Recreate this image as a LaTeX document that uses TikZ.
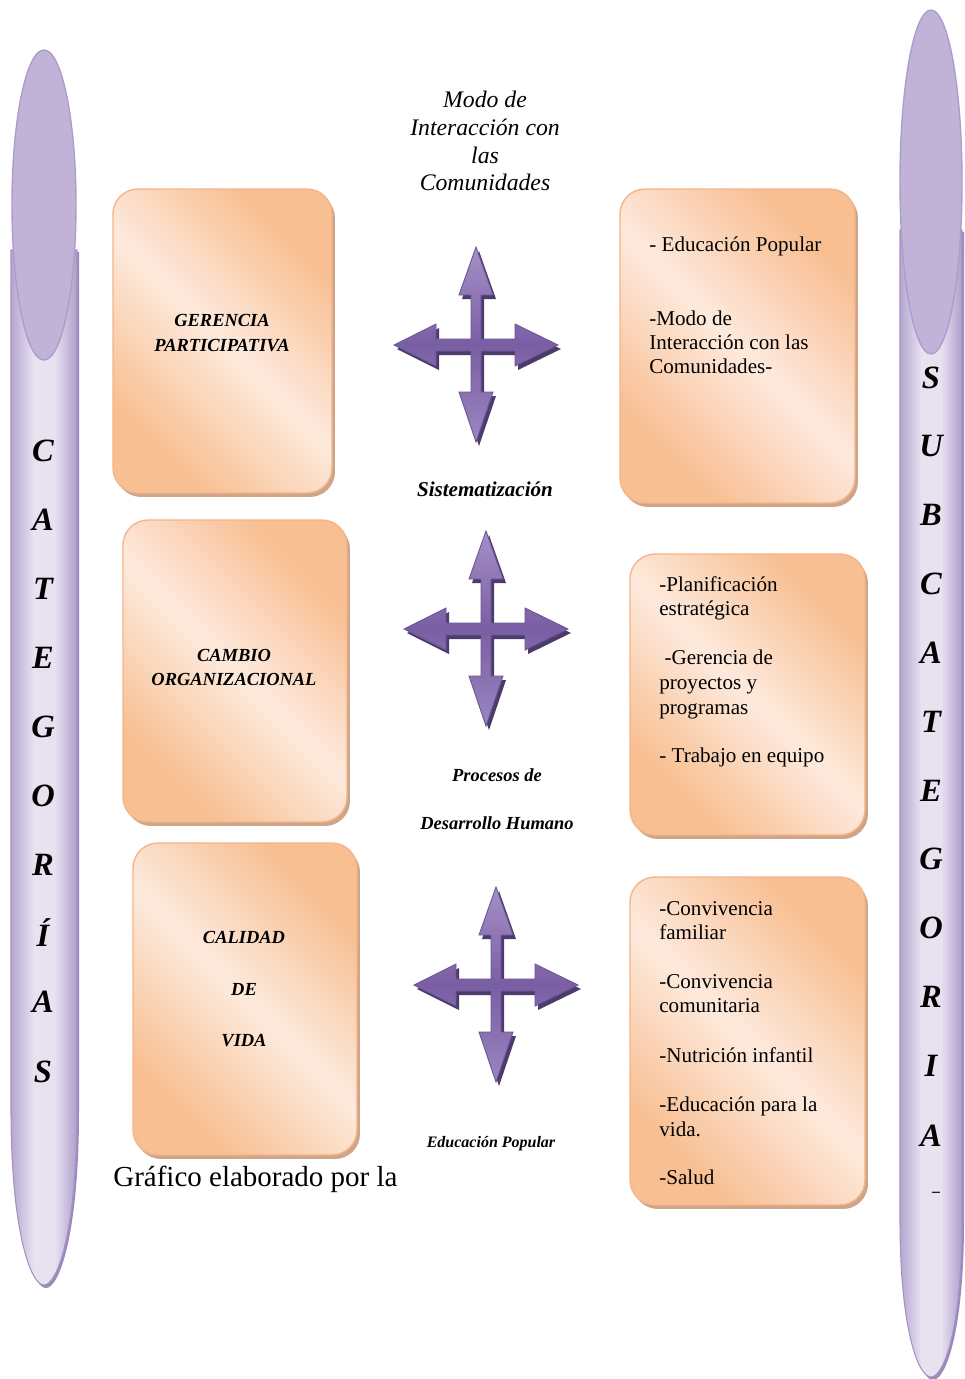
\documentclass[tikz,border=0pt]{standalone}
\usepackage{fontspec}
\setmainfont{Liberation Serif}
\usetikzlibrary{shadows}
\definecolor{orng}{HTML}{F8BF92}
\definecolor{olight}{HTML}{FDEADD}
\definecolor{obrd}{HTML}{F4B58A}
\definecolor{oshad}{HTML}{CFA589}
\definecolor{sce}{HTML}{B5A6D0}
\definecolor{scl}{HTML}{E7E1F0}
\definecolor{sce2}{HTML}{AE9ECB}
\definecolor{scbrd}{HTML}{A393C3}
\definecolor{scshad}{HTML}{9A89BA}
\definecolor{ellfill}{HTML}{C1B3D7}
\definecolor{ellbrd}{HTML}{AC9ECA}
\definecolor{artop}{HTML}{A590C6}
\definecolor{armid}{HTML}{7A5EA4}
\definecolor{arbot}{HTML}{9A86C0}
\definecolor{arbrd}{HTML}{6C5497}
\definecolor{arshad}{HTML}{4B3C6B}
\pgfdeclarehorizontalshading{boxsh}{100bp}{color(0bp)=(orng); color(27bp)=(orng); color(50bp)=(olight); color(73bp)=(orng); color(100bp)=(orng)}
\pgfdeclarehorizontalshading{scrollsh}{100bp}{color(0bp)=(sce); color(25bp)=(sce); color(42bp)=(scl); color(58bp)=(scl); color(75bp)=(sce2); color(100bp)=(sce2)}
\tikzset{
  obox/.style={rectangle, rounded corners=0.5cm, shading=boxsh, shading angle=45,
    draw=obrd, line width=0.8pt, inner sep=0pt, outer sep=0pt,
    drop shadow={shadow xshift=0.06cm, shadow yshift=-0.08cm, fill=oshad, opacity=1}},
  ltitle/.style={font=\fontsize{10.5}{12}\selectfont\bfseries\itshape, anchor=base, inner sep=0pt},
  rtext/.style={font=\fontsize{12}{14}\selectfont, anchor=base west, inner sep=0pt},
  sletter/.style={font=\fontsize{18.5}{20}\selectfont\bfseries\itshape, inner sep=0pt},
  ctext/.style={font=\bfseries\itshape, anchor=base, inner sep=0pt},
  cross4/.pic={
    \fill[arshad] (3,-94) -- (20,-46) -- (8,-46) -- (8,-2) -- (42,-2) -- (42,-17) -- (85,4) -- (42,25) -- (42,10) -- (8,10) -- (8,51) -- (20,51) -- (3,101) -- (-14,51) -- (-2,51) -- (-2,10) -- (-37,10) -- (-37,25) -- (-79,4) -- (-37,-17) -- (-37,-2) -- (-2,-2) -- (-2,-46) -- (-14,-46) -- cycle;
    \path[draw=arbrd, line width=0.5pt, top color=artop, bottom color=arbot, middle color=armid]
      (0,-98) -- (17,-50) -- (5,-50) -- (5,-6) -- (39,-6) -- (39,-21) -- (82,0) -- (39,21) -- (39,6) -- (5,6) -- (5,47) -- (17,47) -- (0,97) -- (-17,47) -- (-5,47) -- (-5,6) -- (-40,6) -- (-40,21) -- (-82,0) -- (-40,-21) -- (-40,-6) -- (-5,-6) -- (-5,-50) -- (-17,-50) -- cycle;
  }
}
\begin{document}
\begin{tikzpicture}[x=0.02cm,y=-0.02cm]
\useasboundingbox (0,0) rectangle (964,1379);
\fill[white] (0,0) rectangle (964,1379);

% ---- left scroll
\fill[scshad] (13,252) -- (13,1112) .. controls (13,1230) and (32,1288) .. (46,1288) .. controls (60,1288) and (79,1230) .. (79,1112) -- (79,252) -- cycle;
\path[shading=scrollsh, draw=scbrd, line width=0.6pt] (11,250) -- (11,1110) .. controls (11,1228) and (30,1285) .. (44,1285) .. controls (58,1285) and (77,1228) .. (77,1110) -- (77,250) -- cycle;
\draw[fill=ellfill, draw=ellbrd, line width=0.8pt] (44,205) ellipse [x radius=32, y radius=155];
\foreach \l/\y [count=\i] in {C/451, A/520, T/589, E/658, G/727, O/796, R/865, Í/933, A/1002, S/1072}
  \node[sletter, name=cl\i] at (43,\y) {\l};

% ---- right scroll
\fill[scshad] (902,232) -- (902,1222) .. controls (902,1330) and (920,1380) .. (933,1380) .. controls (946,1380) and (964,1330) .. (964,1222) -- (964,232) -- cycle;
\path[shading=scrollsh, draw=scbrd, line width=0.6pt] (900,230) -- (900,1220) .. controls (900,1328) and (918,1377) .. (931,1377) .. controls (944,1377) and (962,1328) .. (962,1220) -- (962,230) -- cycle;
\draw[fill=ellfill, draw=ellbrd, line width=0.8pt] (931,182) ellipse [x radius=31, y radius=172];
\foreach \l/\y [count=\i] in {S/378, U/446, B/515, C/584, A/653, T/722, E/791, G/859, O/928, R/997, I/1066, A/1136}
  \node[sletter, name=sl\i] at (931,\y) {\l};
\node[font=\fontsize{9}{10}\selectfont\bfseries, inner sep=0pt] (sdash) at (936,1194) {--};

% ---- left boxes
\node[obox, minimum width=4.38cm, minimum height=6.08cm] (b1) at (222.5,341) {};
\node[obox, minimum width=4.48cm, minimum height=6.04cm] (b2) at (235,671) {};
\node[obox, minimum width=4.48cm, minimum height=6.24cm] (b3) at (245,999) {};
\node[ltitle] (b1a) at (222,326) {GERENCIA};
\node[ltitle] (b1b) at (222,351) {PARTICIPATIVA};
\node[ltitle] (b2a) at (234,661) {CAMBIO};
\node[ltitle] (b2b) at (234,685) {ORGANIZACIONAL};
\node[ltitle] (b3a) at (244,943) {CALIDAD};
\node[ltitle] (b3b) at (244,995) {DE};
\node[ltitle] (b3c) at (244,1046) {VIDA};

% ---- right boxes
\node[obox, minimum width=4.70cm, minimum height=6.28cm] (r1) at (737.5,346) {};
\node[obox, minimum width=4.70cm, minimum height=5.62cm] (r2) at (747.5,694.5) {};
\node[obox, minimum width=4.70cm, minimum height=6.56cm] (r3) at (747.5,1041) {};
\foreach \t/\y [count=\i] in {- Educación Popular/251, -Modo de/325, Interacción con las/349, Comunidades-/373}
  \node[rtext, name=r1t\i] at (649,\y) {\t};
\foreach \t/\y [count=\i] in {-Planificación/591, estratégica/615, \ -Gerencia de/664, proyectos y/689, programas/714, - Trabajo en equipo/762}
  \node[rtext, name=r2t\i] at (659,\y) {\t};
\foreach \t/\y [count=\i] in {-Convivencia/915, familiar/939, -Convivencia/988, comunitaria/1012, -Nutrición infantil/1062, -Educación para la/1111, vida./1136, -Salud/1184}
  \node[rtext, name=r3t\i] at (659,\y) {\t};

% ---- centre
\node[font=\fontsize{13.5}{15.9}\selectfont\itshape, align=center, inner sep=0pt] (modo) at (485,141) {Modo de\\Interacción con\\las\\Comunidades};
\pic (ar1) at (476,345) {cross4};
\node[ctext, font=\fontsize{12}{14}\selectfont\bfseries\itshape] (sist) at (485,496) {Sistematización};
\pic (ar2) at (486,629) {cross4};
\node[ctext, font=\fontsize{10.5}{12}\selectfont\bfseries\itshape] (proc) at (497,781) {Procesos de};
\node[ctext, font=\fontsize{10.5}{12}\selectfont\bfseries\itshape] (desa) at (497,829) {Desarrollo Humano};
\pic (ar3) at (496,985) {cross4};
\node[ctext, font=\fontsize{9.1}{11}\selectfont\bfseries\itshape] (edpop) at (491,1147) {Educación Popular};
\node[font=\fontsize{16.5}{19}\selectfont, anchor=base west, inner sep=0pt] (graf) at (113,1186) {Gráfico elaborado por la};
\end{tikzpicture}
\end{document}
